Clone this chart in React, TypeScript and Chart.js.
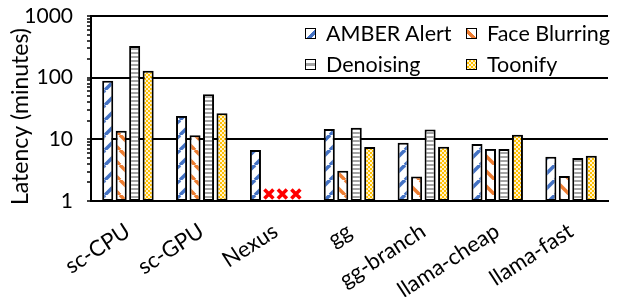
import React, { useEffect, useRef } from 'react';
import { Chart, registerables } from 'chart.js';

Chart.register(...registerables);

const categories = ['sc-CPU', 'sc-GPU', 'Nexus', 'gg', 'gg-branch', 'llama-cheap', 'llama-fast'];
const seriesNames = ['AMBER Alert', 'Face Blurring', 'Denoising', 'Toonify'];
const amberAlert = [89, 24, 6.7, 14.7, 8.8, 8.4, 5.2];
const faceBlurring = [13.8, 11.7, null, 3.1, 2.5, 7.0, 2.55];
const denoising = [325, 54, null, 15.4, 14.5, 7.0, 5.0];
const toonify = [130, 26.4, null, 7.5, 7.6, 11.9, 5.4];
const yTickLabels = [1, 10, 100, 1000];
const yAxisTitle = 'Latency (minutes)';
const missingMarkValue = 1.3;

const FONT = 'Lato';
const BLUE = '#4472C4';
const ORANGE = '#ED7D31';
const GRAY = '#A5A5A5';
const GOLD = '#FFC000';

function makePattern(kind: string): CanvasPattern | string {
  const c = document.createElement('canvas');
  const ctx = c.getContext('2d');
  if (!ctx) return '#fff';
  if (kind === 'fwd' || kind === 'back') {
    const s = 15;
    c.width = s; c.height = s;
    ctx.fillStyle = '#fff';
    ctx.fillRect(0, 0, s, s);
    ctx.strokeStyle = kind === 'fwd' ? BLUE : ORANGE;
    ctx.lineWidth = 3.5;
    for (const x0 of [-s, 0, s]) {
      ctx.beginPath();
      if (kind === 'fwd') { ctx.moveTo(x0, s); ctx.lineTo(x0 + s, 0); }
      else { ctx.moveTo(x0, 0); ctx.lineTo(x0 + s, s); }
      ctx.stroke();
    }
  } else if (kind === 'horiz') {
    c.width = 4; c.height = 4;
    ctx.fillStyle = '#fff';
    ctx.fillRect(0, 0, 4, 4);
    ctx.fillStyle = GRAY;
    ctx.fillRect(0, 0, 4, 2);
  } else {
    c.width = 4; c.height = 4;
    ctx.fillStyle = GOLD;
    ctx.fillRect(0, 0, 4, 4);
    ctx.fillStyle = '#FFF2CC';
    ctx.fillRect(0, 0, 2, 2);
    ctx.fillRect(2, 2, 2, 2);
  }
  const p = ctx.createPattern(c, 'repeat');
  return p || '#fff';
}

const missingMarks = {
  id: 'missingMarks',
  afterDatasetsDraw(chart: any) {
    const ctx = chart.ctx;
    const y = chart.scales.y.getPixelForValue(missingMarkValue);
    chart.data.datasets.forEach((ds: any, di: number) => {
      const meta = chart.getDatasetMeta(di);
      ds.data.forEach((v: any, i: number) => {
        if (v === null || v === undefined) {
          const el = meta.data[i];
          if (!el || !isFinite(el.x)) return;
          const x = el.x;
          const h = 4.5;
          ctx.save();
          ctx.strokeStyle = '#FF0000';
          ctx.lineWidth = 3.5;
          ctx.lineCap = 'butt';
          ctx.beginPath();
          ctx.moveTo(x - h, y - h); ctx.lineTo(x + h, y + h);
          ctx.moveTo(x + h, y - h); ctx.lineTo(x - h, y + h);
          ctx.stroke();
          ctx.restore();
        }
      });
    });
  },
};

const yTitlePlugin = {
  id: 'yTitle',
  afterDraw(chart: any) {
    const ctx = chart.ctx;
    const a = chart.chartArea;
    ctx.save();
    ctx.translate(21, (a.top + a.bottom) / 2 + 8);
    ctx.rotate(-Math.PI / 2);
    ctx.font = `23px ${FONT}`;
    ctx.fillStyle = '#000';
    ctx.textAlign = 'center';
    ctx.textBaseline = 'middle';
    ctx.fillText(yAxisTitle, 0, 0);
    ctx.restore();
  },
};

const swatchStyles: Record<string, React.CSSProperties> = {
  'AMBER Alert': { background: `linear-gradient(135deg, #fff 50%, ${BLUE} 50%, ${BLUE} 80%, #fff 80%)` },
  'Face Blurring': { background: `linear-gradient(45deg, #fff 25%, ${ORANGE} 25%, ${ORANGE} 55%, #fff 55%)` },
  'Denoising': { background: `linear-gradient(180deg, #fff 0 35%, ${GRAY} 35% 65%, #fff 65%)` },
  'Toonify': { background: `repeating-conic-gradient(${GOLD} 0 25%, #FFF2CC 0 50%) 0 0 / 4px 4px` },
};

export default function App() {
  const ref = useRef<HTMLCanvasElement | null>(null);

  useEffect(() => {
    if (!ref.current) return;
    const fills = [makePattern('fwd'), makePattern('back'), makePattern('horiz'), makePattern('check')];
    const values = [amberAlert, faceBlurring, denoising, toonify];
    const chart = new Chart(ref.current, {
      type: 'bar',
      data: {
        labels: categories,
        datasets: seriesNames.map((name, i) => ({
          label: name,
          data: values[i] as any,
          backgroundColor: fills[i] as any,
          borderColor: '#000',
          borderWidth: 2,
          borderSkipped: false,
          categoryPercentage: 0.73,
          barPercentage: 0.82,
        })),
      },
      options: {
        responsive: false,
        animation: false,
        devicePixelRatio: 1,
        layout: { padding: { top: 16, right: 10, bottom: 0, left: 0 } },
        plugins: { legend: { display: false }, tooltip: { enabled: false } },
        scales: {
          x: {
            grid: { display: false, drawTicks: false },
            border: { color: '#000', width: 2 },
            ticks: {
              maxRotation: 33,
              minRotation: 33,
              padding: 17,
              color: '#000',
              font: { family: FONT, size: 22 },
              autoSkip: false,
            },
            afterFit: (s: any) => { s.height = 96; s.paddingLeft = 0; s.paddingRight = 0; },
          },
          y: {
            type: 'logarithmic',
            min: 1,
            max: 1000,
            afterBuildTicks: (s: any) => {
              const t: any[] = [];
              for (const d of [1, 10, 100]) for (let k = 1; k <= 9; k++) t.push({ value: d * k });
              t.push({ value: 1000 });
              s.ticks = t;
            },
            ticks: {
              autoSkip: false,
              color: '#000',
              padding: 14,
              font: { family: FONT, size: 21 },
              callback: (v: any) => (yTickLabels.includes(Number(v)) ? String(v) : ''),
            },
            grid: {
              color: (c: any) => (c.tick && yTickLabels.includes(c.tick.value) ? '#000' : 'rgba(0,0,0,0)'),
              lineWidth: 2,
              tickLength: 4,
              tickColor: '#000',
              tickWidth: 1.5,
            },
            border: { color: '#000', width: 2 },
            title: { display: false },
            afterFit: (s: any) => { s.width = 91; s.paddingTop = 0; s.paddingBottom = 0; },
          },
        },
      },
      plugins: [missingMarks, yTitlePlugin],
    });
    return () => chart.destroy();
  }, []);

  const legendPos = [
    { x: 305, y: 33 },
    { x: 466, y: 33 },
    { x: 305, y: 64 },
    { x: 466, y: 64 },
  ];

  return (
    <div style={{ position: 'fixed', left: 0, top: 0, width: 618, height: 297, background: '#fff' }}>
      <canvas ref={ref} width={618} height={297} style={{ position: 'absolute', left: 0, top: 0 }} />
      {seriesNames.map((name, i) => (
        <div
          key={name}
          style={{
            position: 'absolute',
            left: legendPos[i].x,
            top: legendPos[i].y - 14,
            height: 28,
            display: 'flex',
            alignItems: 'center',
            fontFamily: FONT,
            fontSize: 21.5,
            color: '#000',
            whiteSpace: 'nowrap',
          }}
        >
          <span
            style={{
              display: 'inline-block',
              width: 9,
              height: 9,
              border: '1.5px solid #000',
              marginRight: 10,
              ...swatchStyles[name],
            }}
          />
          <span>{name}</span>
        </div>
      ))}
    </div>
  );
}
